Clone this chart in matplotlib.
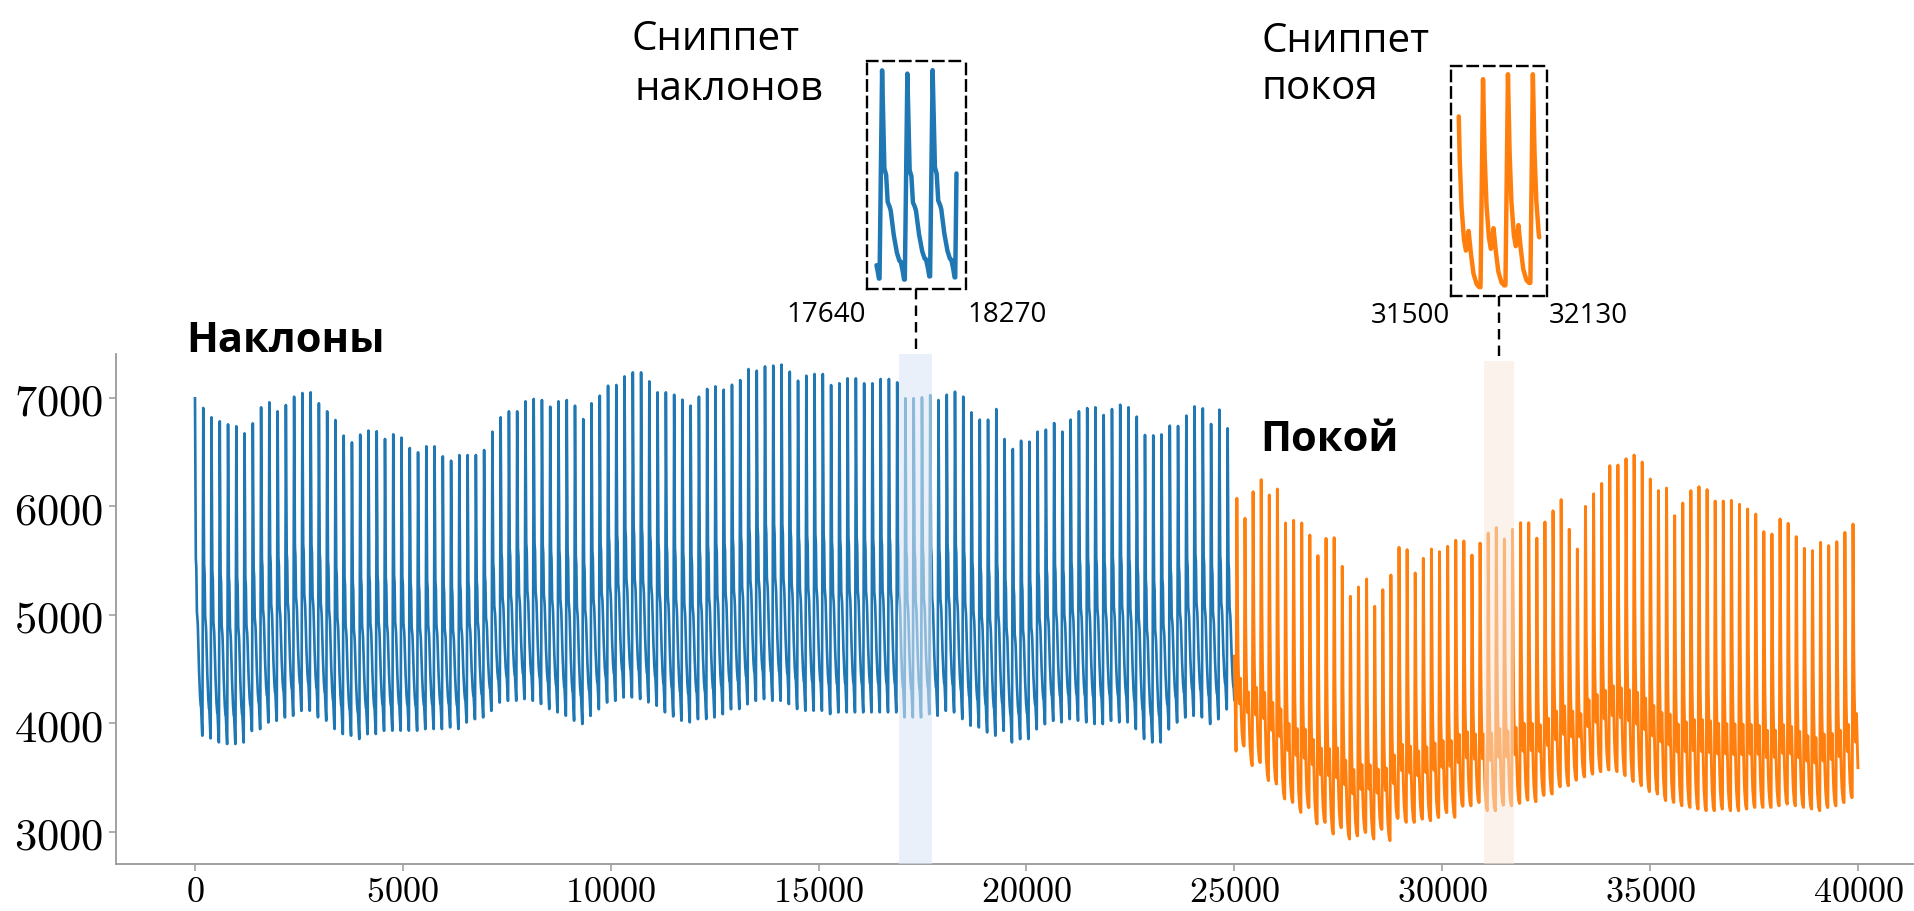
import numpy as np
import matplotlib
matplotlib.use("Agg")
import matplotlib.pyplot as plt
from matplotlib.lines import Line2D
from matplotlib.ticker import FuncFormatter, MultipleLocator

plt.rcParams['mathtext.fontset'] = 'cm'

# ---------------- data ----------------
# peak value of every beat in the "tilt" record (samples 0..24999)
BLUE_PEAKS = [
    6997, 6908, 6822, 6785, 6757, 6739, 6674, 6766, 6914, 6960,
    6877, 6935, 7012, 7046, 7052, 6951, 6877, 6797, 6653, 6591,
    6662, 6699, 6693, 6622, 6665, 6634, 6539, 6499, 6554, 6554,
    6462, 6422, 6474, 6474, 6474, 6520, 6689, 6822, 6877, 6877,
    6969, 6991, 6981, 6920, 6969, 6981, 6929, 6806, 6951, 7021,
    7113, 7120, 7199, 7236, 7236, 7153, 7052, 7052, 7030, 6984,
    6929, 7012, 7083, 7107, 7076, 7122, 7165, 7267, 7251, 7291,
    7298, 7307, 7242, 7159, 7205, 7221, 7221, 7119, 7135, 7181,
    7181, 7135, 7135, 7175, 7175, 7144, 6997, 6997, 7006, 7027,
    6981, 7030, 7058, 7012, 6867, 6800, 6800, 6898, 6622, 6530,
    6606, 6597, 6689, 6708, 6769, 6689, 6800, 6877, 6907, 6914,
    6843, 6898, 6938, 6914, 6828, 6659, 6655, 6664, 6745, 6742,
    6837, 6922, 6904, 6760, 6892, 6720,
]
# foot (minimum before the upstroke) of every beat, plus the final one
BLUE_FEET = [
    3888, 3888, 3863, 3826, 3811, 3811, 3826, 3934, 3949, 4011,
    4026, 4057, 4072, 4118, 4118, 4057, 4026, 3949, 3903, 3888,
    3857, 3903, 3903, 3934, 3934, 3934, 3934, 3934, 3949, 3949,
    3949, 3965, 3949, 4011, 4041, 4057, 4118, 4195, 4210, 4210,
    4226, 4210, 4180, 4133, 4103, 4072, 4026, 3995, 4072, 4133,
    4195, 4210, 4241, 4241, 4226, 4195, 4164, 4103, 4065, 4026,
    4011, 4041, 4041, 4057, 4087, 4133, 4133, 4179, 4210, 4226,
    4210, 4210, 4179, 4133, 4118, 4118, 4118, 4087, 4103, 4103,
    4103, 4103, 4103, 4103, 4103, 4103, 4057, 4057, 4057, 4087,
    4072, 4118, 4103, 4041, 3980, 3964, 3918, 3888, 3934, 3826,
    3857, 3857, 3949, 3995, 4026, 4011, 4041, 4026, 4011, 3995,
    3995, 4026, 4011, 4011, 3949, 3857, 3826, 3826, 3949, 4011,
    4057, 4072, 4057, 3995, 4041, 4133, 4100,
]
# peak value of every beat in the "rest" record (samples 25000..39999)
ORANGE_PEAKS = [
    6075, 5891, 6136, 6247, 6106, 6161, 5848, 5872, 5848, 5737,
    5547, 5706, 5712, 5448, 5172, 5258, 5332, 5080, 5233, 5368,
    5623, 5602, 5387, 5522, 5608, 5583, 5633, 5688, 5682, 5553,
    5663, 5755, 5805, 5700, 5790, 5850, 5850, 5708, 5857, 5960,
    6063, 5790, 5608, 6001, 6116, 6212, 6376, 6382, 6440, 6474,
    6410, 6253, 6146, 6170, 5915, 6032, 6146, 6182, 6155, 6050,
    6050, 6056, 6020, 5977, 5930, 5768, 5746, 5884, 5844, 5722,
    5614, 5593, 5669, 5639, 5675, 5761, 5838,
]
ORANGE_FEET = [
    3734, 3795, 3611, 3642, 3473, 3442, 3304, 3273, 3181, 3227,
    3074, 3089, 2981, 3043, 2935, 2966, 2997, 2935, 3028, 2920,
    3135, 3089, 3089, 3120, 3104, 3135, 3181, 3135, 3242, 3242,
    3273, 3196, 3196, 3250, 3242, 3265, 3295, 3280, 3340, 3350,
    3420, 3427, 3480, 3510, 3535, 3557, 3572, 3557, 3520, 3465,
    3427, 3372, 3350, 3289, 3273, 3242, 3227, 3212, 3197, 3197,
    3212, 3197, 3197, 3212, 3227, 3227, 3227, 3242, 3258, 3242,
    3227, 3212, 3197, 3227, 3242, 3273, 3319, 3458,
]
ORANGE_START = 4620

BLUE_PERIOD, BLUE_FIRST_PEAK = 198.7, 0
ORANGE_PERIOD, ORANGE_FIRST_PEAK = 195.0, 25060
SPLIT, N_TOTAL = 25000, 40000

# one beat: phase within the beat (0 = foot) and height as a share of the beat amplitude
PEAK_PHASE = 0.10
BLUE_PHASE = [0.00, 0.10, 0.19, 0.26, 0.32, 0.39, 0.44, 0.55, 0.68, 0.78, 0.84, 0.91, 0.97]
BLUE_LEVEL = [0.00, 1.00, 0.53, 0.50, 0.37, 0.35, 0.33, 0.22, 0.13, 0.09, 0.085, 0.045, 0.00]
ORANGE_PHASE = [0.00, 0.10, 0.16, 0.23, 0.33, 0.41, 0.45, 0.52, 0.60, 0.71, 0.84, 0.95]
ORANGE_LEVEL = [0.00, 1.00, 0.65, 0.41, 0.24, 0.18, 0.19, 0.28, 0.18, 0.07, 0.015, 0.00]

SNIP_TILT = (17640, 18270)
SNIP_REST = (31500, 32130)
SPAN_TILT = (16940, 17730)
SPAN_REST = (31000, 31725)

BLUE = '#1f77b4'
ORANGE = '#ff7f0e'


def beat_train(peaks, feet, period, first_peak, phase, level):
    phase = np.asarray(phase, float)
    level = np.asarray(level, float)
    ts, ys = [], []
    for i, p in enumerate(peaks):
        pk_t = round(first_peak + i * period)
        f0, f1 = feet[i], feet[i + 1]
        base = f0 + (f1 - f0) * phase
        base_pk = f0 + (f1 - f0) * PEAK_PHASE
        ts.append(pk_t + (phase - PEAK_PHASE) * period)
        ys.append(base + (p - base_pk) * level)
    end_t = round(first_peak + len(peaks) * period) - PEAK_PHASE * period
    ts.append([end_t])
    ys.append([feet[len(peaks)]])
    return np.concatenate(ts), np.concatenate(ys)


bt, by = beat_train(BLUE_PEAKS, BLUE_FEET, BLUE_PERIOD, BLUE_FIRST_PEAK, BLUE_PHASE, BLUE_LEVEL)
ot, oy = beat_train(ORANGE_PEAKS, ORANGE_FEET, ORANGE_PERIOD, ORANGE_FIRST_PEAK,
                    ORANGE_PHASE, ORANGE_LEVEL)
ot = np.concatenate([[SPLIT], ot])
oy = np.concatenate([[ORANGE_START], oy])

x_tilt = np.arange(0, SPLIT)
y_tilt = np.interp(x_tilt, bt, by)
x_rest = np.arange(SPLIT, N_TOTAL)
y_rest = np.interp(x_rest, ot, oy)

# ---------------- figure ----------------
W, H = 1915, 912
fig = plt.figure(figsize=(W / 100, H / 100), dpi=100)


def fx(px):
    return px / W


def fy(py):
    return 1 - py / H


ax = fig.add_axes([fx(116), fy(865), fx(1915 - 116), (865 - 354.7) / H])
ax.plot(x_tilt, y_tilt, color=BLUE, lw=1.9, zorder=2)
ax.plot(x_rest, y_rest, color=ORANGE, lw=2.1, zorder=2)
ax.axvspan(*SPAN_TILT, ymin=0, ymax=1.0, facecolor='#dae7f5', alpha=0.59, lw=0, zorder=3)
ax.axvspan(*SPAN_REST, ymin=0, ymax=0.986, facecolor='#f9e8da', alpha=0.52, lw=0, zorder=3)

ax.set_xlim(-1900, 41371)
ax.set_ylim(2705, 7408)
ax.xaxis.set_major_locator(MultipleLocator(5000))
ax.yaxis.set_major_locator(MultipleLocator(1000))
fmt = FuncFormatter(lambda v, p: r'$%d$' % int(round(v)))
ax.xaxis.set_major_formatter(fmt)
ax.yaxis.set_major_formatter(fmt)
for side in ('top', 'right'):
    ax.spines[side].set_visible(False)
for side in ('left', 'bottom'):
    ax.spines[side].set_color('#9a9a9a')
    ax.spines[side].set_linewidth(1.3)
ax.tick_params(axis='both', colors='#9a9a9a', length=5, width=1.1, labelcolor='black')
ax.tick_params(axis='y', labelsize=32, pad=4)
ax.tick_params(axis='x', labelsize=26, pad=2)


def snippet(box, x, y, lo, hi, color, mx, my):
    left, top, right, bottom = box
    a = fig.add_axes([fx(left), fy(bottom), fx(right - left), (bottom - top) / H])
    sel = (x >= lo) & (x <= hi)
    a.plot(x[sel], y[sel], color=color, lw=3.2, solid_capstyle='round',
           solid_joinstyle='round')
    a.margins(x=mx, y=my)
    a.set_xticks([])
    a.set_yticks([])
    a.patch.set_alpha(0)
    for s in a.spines.values():
        s.set_color('black')
        s.set_linewidth(1.7)
        s.set_linestyle((0, (4.4, 2.6)))
    return a


snippet((867.3, 61.7, 965.7, 290.0), x_tilt, y_tilt, *SNIP_TILT, BLUE, 0.115, 0.045)
snippet((1450.7, 66.7, 1547.3, 296.7), x_rest, y_rest, *SNIP_REST, ORANGE, 0.10, 0.04)

# dashed leaders from the snippet boxes down to the highlighted spans
for xc, y0, y1 in ((916.5, 290.0, 355.0), (1499.0, 296.7, 361.7)):
    fig.add_artist(Line2D([fx(xc), fx(xc)], [fy(y0), fy(y1)], transform=fig.transFigure,
                          color='black', lw=1.7, linestyle=(0, (4.4, 2.6))))

reg = dict(family='Open Sans', fontsize=29, color='black', va='baseline', ha='left')
fig.text(fx(632), fy(50), 'Сниппет', **reg)
fig.text(fx(635), fy(100), 'наклонов', **reg)
fig.text(fx(1262), fy(52), 'Сниппет', **reg)
fig.text(fx(1262), fy(99), 'покоя', **reg)

num = dict(family='Open Sans', fontsize=20, color='black', va='center')
fig.text(fx(866), fy(315), '17640', ha='right', **num)
fig.text(fx(967), fy(315), '18270', ha='left', **num)
fig.text(fx(1450), fy(316), '31500', ha='right', **num)
fig.text(fx(1549), fy(316), '32130', ha='left', **num)

bold = dict(family='Open Sans', fontsize=30, fontweight='bold', color='black',
            va='baseline', ha='left')
fig.text(fx(186), fy(352), 'Наклоны', **bold)
fig.text(fx(1260), fy(451), 'Покой', **bold)

fig.savefig('out.png', dpi=100)
